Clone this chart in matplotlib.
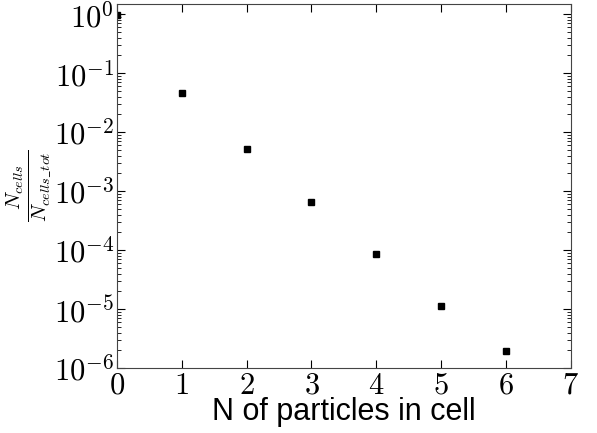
import matplotlib
matplotlib.use("Agg")
import matplotlib.pyplot as plt
from matplotlib.ticker import LogLocator, FuncFormatter, NullFormatter
import numpy as np

n_particles = [0, 1, 2, 3, 4, 5, 6]
cell_fraction = [0.96, 0.046, 0.0051, 0.00065, 8.6e-5, 1.12e-5, 1.95e-6]

plt.rcParams['mathtext.fontset'] = 'cm'
plt.rcParams['font.family'] = ['DejaVu Sans']

fig = plt.figure(figsize=(5.97, 4.33), dpi=100)
ax = fig.add_axes([0.196, 0.150, 0.760, 0.841])

ax.plot(n_particles, cell_fraction, 's', color='black', markersize=5)

ax.set_yscale('log')
ax.set_xlim(0, 7)
ax.set_ylim(1e-6, 1.5)
ax.set_xticks(range(8))
ax.set_xticklabels([r'$%d$' % i for i in range(8)])

ax.yaxis.set_major_locator(LogLocator(base=10, numticks=20))
ax.yaxis.set_minor_locator(LogLocator(base=10, subs=np.arange(2, 10), numticks=20))
ax.yaxis.set_major_formatter(FuncFormatter(lambda v, p: r'$10^{%d}$' % round(np.log10(v))))
ax.yaxis.set_minor_formatter(NullFormatter())

ax.tick_params(which='both', direction='in', top=True, right=True, labelsize=22, pad=2)
ax.tick_params(which='major', length=6)
ax.tick_params(which='minor', length=3)
ax.tick_params(axis='x', which='minor', bottom=False, top=False)
for s in ax.spines.values():
    s.set_color('#444444')

ax.set_xlabel('N of particles in cell', fontsize=22, labelpad=-2,
              family=['Liberation Sans'])
ax.set_ylabel(r'$\frac{N_{cells}}{N_{cells\_tot}}$', fontsize=21)
ax.yaxis.set_label_coords(-0.14, 0.5)

plt.savefig('out.png', dpi=100)
